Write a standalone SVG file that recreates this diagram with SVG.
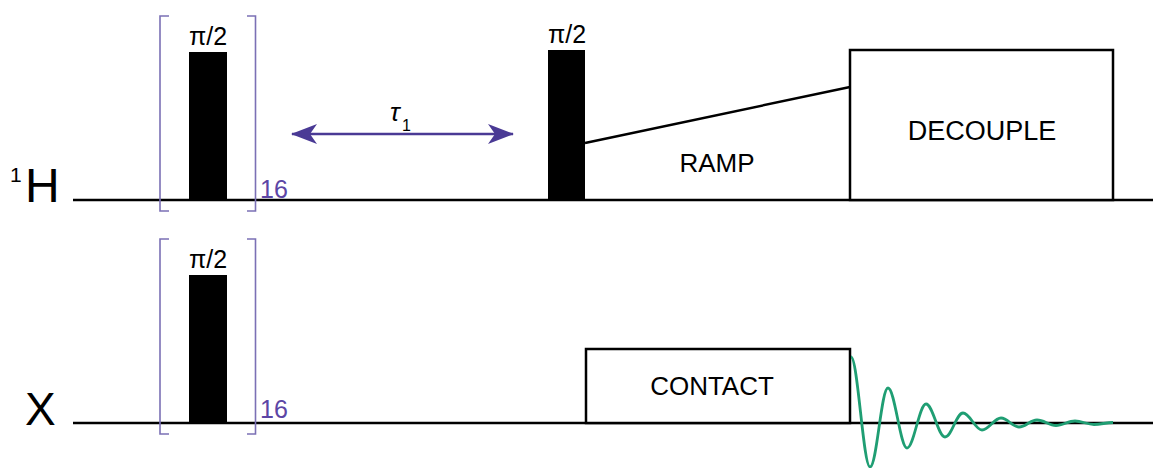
<svg xmlns="http://www.w3.org/2000/svg" width="1153" height="468" viewBox="0 0 1153 468">
  <style>
    .lbl { font-family: "Liberation Sans", Arial, sans-serif; fill: #000; }
    .axis { stroke: #000; stroke-width: 2.5; fill: none; }
    .box { stroke: #000; stroke-width: 2.5; fill: #fff; }
    .pulse { fill: #000; }
    .brk { stroke: #7b70b5; stroke-width: 1.6; fill: none; }
    .rep { font-family: "Liberation Sans", Arial, sans-serif; fill: #5c45a5; font-size: 25px; }
    .fid { stroke: #1f9e73; stroke-width: 2.8; fill: none; stroke-linejoin: round; }
  </style>
  <defs>
    <marker id="head" viewBox="0 0 26 22" refX="25" refY="11" markerWidth="26" markerHeight="22" markerUnits="userSpaceOnUse" orient="auto-start-reverse">
      <path d="M26,11 L0,1 L7,11 L0,21 Z" fill="#4a3a95"/>
    </marker>
  </defs>
  <rect width="1153" height="468" fill="#fff"/>

  <!-- channel baselines -->
  <g id="channels">
    <line class="axis" x1="73" y1="200" x2="1153" y2="200"/>
    <line class="axis" x1="73" y1="423" x2="1153" y2="423"/>
    <text class="lbl" x="10" y="182" font-size="21">1</text>
    <text class="lbl" x="25" y="202" font-size="48">H</text>
    <text class="lbl" x="25" y="425" font-size="46">X</text>
  </g>

  <!-- 1H: repeated saturation pulse -->
  <g id="h-saturation">
    <path class="brk" d="M169,16 H160 V211 H169 M247,16 H255.5 V211 H247"/>
    <rect class="pulse" x="189" y="52" width="38" height="148"/>
    <text class="lbl" x="208" y="45" font-size="25" text-anchor="middle">π/2</text>
    <text class="rep" x="260" y="198">16</text>
  </g>

  <!-- X: repeated saturation pulse -->
  <g id="x-saturation">
    <path class="brk" d="M169,239 H160 V434 H169 M247,239 H255.5 V434 H247"/>
    <rect class="pulse" x="189" y="275" width="38" height="148"/>
    <text class="lbl" x="208" y="268" font-size="25" text-anchor="middle">π/2</text>
    <text class="rep" x="260" y="418">16</text>
  </g>

  <!-- recovery delay -->
  <g id="delay">
    <text class="lbl" x="390" y="121" font-size="26" font-style="italic">τ</text>
    <text class="lbl" x="402" y="131" font-size="16">1</text>
  </g>

  <!-- 1H excitation, ramped CP and decoupling -->
  <g id="h-excite">
    <rect class="pulse" x="548" y="50" width="37" height="150"/>
    <text class="lbl" x="567" y="43" font-size="25" text-anchor="middle">π/2</text>
  </g>
  <g id="h-ramp">
    <line class="axis" x1="585" y1="143" x2="850" y2="87"/>
    <text class="lbl" x="717" y="172" font-size="26" text-anchor="middle">RAMP</text>
  </g>
  <g id="h-decouple">
    <rect class="box" x="850" y="50" width="263" height="150"/>
    <text class="lbl" x="982" y="140" font-size="27" text-anchor="middle">DECOUPLE</text>
  </g>

  <!-- X contact and acquisition -->
  <g id="x-contact">
    <rect class="box" x="586" y="349" width="264" height="74"/>
    <text class="lbl" x="712" y="395" font-size="26" text-anchor="middle">CONTACT</text>
  </g>
  <g id="x-fid">
    <path class="fid" d="M851,357 C857.8,357 863.2,467 870,467 C876.8,467 881.2,388 888,388 C894.8,388 900.2,448 907,448 C913.8,448 919.2,404 926,404 C932.8,404 938.2,437 945,437 C951.8,437 956.2,413 963,413 C969.8,413 975.2,430 982,430 C988.8,430 994.2,418 1001,418 C1007.8,418 1012.2,427 1019,427 C1025.8,427 1030.2,420 1037,420 C1043.8,420 1049.2,425.5 1056,425.5 C1062.8,425.5 1068.2,421 1075,421 C1081.8,421 1087.2,424.5 1094,424.5 C1100.8,424.5 1106.2,422.5 1113,422.5"/>
  </g>

  <!-- connectors -->
  <g id="connectors">
    <line x1="292" y1="134" x2="513" y2="134" stroke="#4a3a95" stroke-width="2.5" marker-start="url(#head)" marker-end="url(#head)"/>
  </g>
</svg>
